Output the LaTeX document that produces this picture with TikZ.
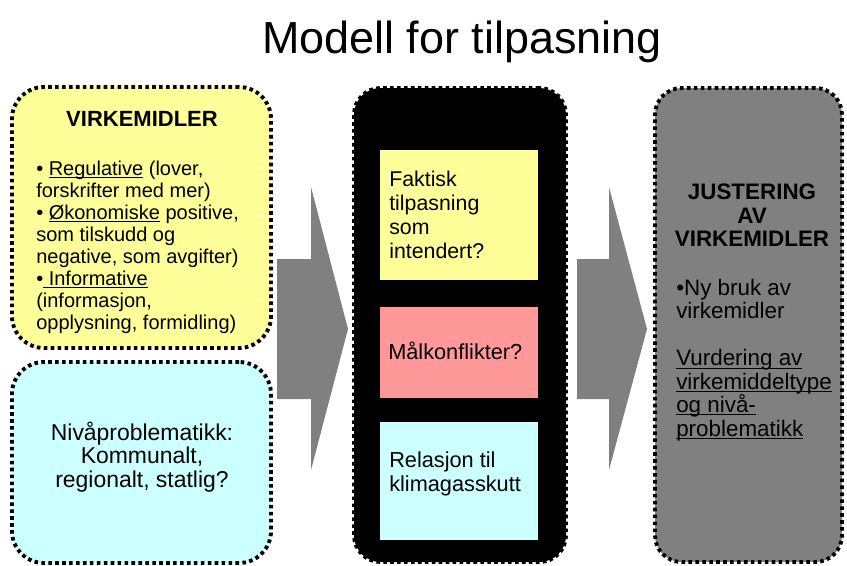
\documentclass[tikz,border=0pt]{standalone}
\usepackage{fontspec}
\setmainfont{Liberation Sans}
\usetikzlibrary{positioning}

\definecolor{lysgul}{HTML}{FFFF99}
\definecolor{lysblaa}{HTML}{CCFFFF}
\definecolor{lysrod}{HTML}{FF9999}
\definecolor{graa}{HTML}{808080}
\newcommand{\strek}[1]{\underline{\raisebox{0pt}[\height][0pt]{#1}}}

\begin{document}
\begin{tikzpicture}[x=0.75pt, y=-0.75pt,
  prikk/.style={draw=black, line width=2.9pt, dash pattern=on 2.7pt off 2.5pt},
  boks/.style={prikk, rounded corners=24pt, minimum width=194.25pt},
  kolonne/.style={prikk, rounded corners=20pt, minimum height=355.5pt},
  indre/.style={minimum width=118.5pt},
  pil/.style={fill=graa},
  tekst/.style={inner sep=0pt, align=left}]
\useasboundingbox (0,0) rectangle (847,565);

% tittel
\node[anchor=base, font=\fontsize{33.7}{40}\selectfont] (tittel) at (462,53) {Modell for tilpasning};

% venstre kolonne
\node[boks, fill=lysgul, minimum height=195.75pt] (virk) at (141.5,217.5) {};
\node[boks, fill=lysblaa, minimum height=150.75pt] (niva) at (141.5,462.5) {};
\node[anchor=base, inner sep=0pt, font=\bfseries\fontsize{16.5}{18}\selectfont] (virkhode) at (142,126) {VIRKEMIDLER};
\node[tekst, anchor=north west, font=\fontsize{15}{16.5}\selectfont] (virktekst) at (36,161)
  {• \strek{Regulative} (lover,\\
   forskrifter med mer)\\
   • \strek{Økonomiske} positive,\\
   som tilskudd og\\
   negative, som avgifter)\\
   •\strek{ Informative}\\
   (informasjon,\\
   opplysning, formidling)};
\node[tekst, align=center, font=\fontsize{17.2}{17.5}\selectfont] (nivatekst) at (142,457)
  {Nivåproblematikk:\\ Kommunalt,\\ regionalt, statlig?};

% midtre kolonne
\node[kolonne, fill=black, minimum width=159pt] (midt) at (460,325) {};
\node[indre, fill=lysgul, minimum height=97.5pt] (faktisk) at (459,215) {};
\node[indre, fill=lysrod, minimum height=68.25pt] (konflikt) at (459,352.5) {};
\node[indre, fill=lysblaa, minimum height=88.5pt] (klima) at (459,481) {};
\node[tekst, anchor=north west, font=\fontsize{16}{18}\selectfont] (faktisktekst) at (389,171)
  {Faktisk\\ tilpasning\\ som\\ intendert?};
\node[tekst, anchor=base west, font=\fontsize{16.3}{18}\selectfont] (konflikttekst) at (388,359) {Målkonflikter?};
\node[tekst, anchor=north west, font=\fontsize{16.3}{18.5}\selectfont] (klimatekst) at (389,451)
  {Relasjon til\\ klimagasskutt};

% hoyre kolonne
\node[kolonne, fill=graa, minimum width=140.25pt] (just) at (748.5,325) {};
\node[tekst, align=center, anchor=north, font=\bfseries\fontsize{16.8}{17.6}\selectfont] (justhode) at (752,184)
  {JUSTERING\\ AV\\ VIRKEMIDLER};
\node[tekst, anchor=north west, font=\fontsize{16.8}{17.6}\selectfont] (justtekst) at (676,279)
  {•Ny bruk av\\ virkemidler\\[17.6pt]
   \strek{Vurdering av}\\ \strek{virkemiddeltype}\\ \strek{og nivå-}\\ \strek{problematikk}};

% piler
\fill[pil] (277,259) -- (311,259) -- (311,187) -- (348,329) -- (311,470) -- (311,399) -- (277,399) -- cycle;
\fill[pil] (577,259) -- (609,259) -- (609,187) -- (647,329) -- (609,470) -- (609,399) -- (577,399) -- cycle;
\end{tikzpicture}
\end{document}
